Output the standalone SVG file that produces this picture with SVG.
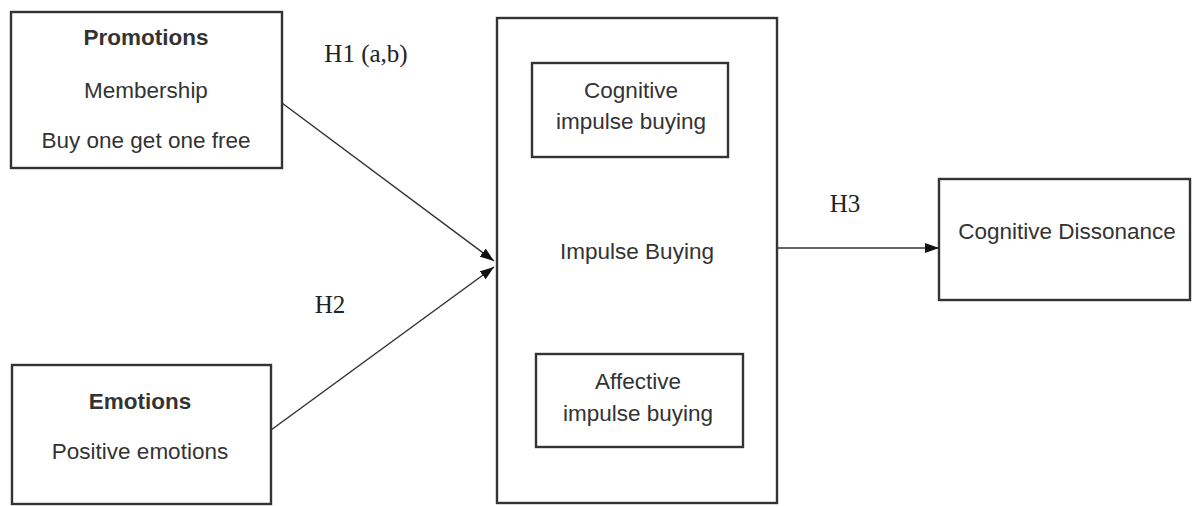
<svg xmlns="http://www.w3.org/2000/svg" width="1195" height="506" viewBox="0 0 1195 506">
<style>
.box{fill:#fff;stroke:#333;stroke-width:2.4}
.t{font-family:"Liberation Sans",Arial,sans-serif;font-size:22.5px;fill:#333;text-anchor:middle}
.b{font-weight:bold}
.h{font-family:"Liberation Serif","Times New Roman",serif;font-size:25px;fill:#222;text-anchor:middle}
.c{stroke:#333;stroke-width:1.5;fill:none}
</style>
<defs>
<marker id="ah" viewBox="0 0 14 10" refX="14" refY="5" markerWidth="14" markerHeight="10" markerUnits="userSpaceOnUse" orient="auto">
<path d="M0,0 L14,5 L0,10 z" fill="#111"/>
</marker>
</defs>
<rect width="1195" height="506" fill="#fff"/>
<g id="promotions">
<rect class="box" x="11" y="12" width="271" height="156"/>
<text class="t b" x="146" y="45">Promotions</text>
<text class="t" x="146" y="98">Membership</text>
<text class="t" x="146" y="148">Buy one get one free</text>
</g>
<g id="emotions">
<rect class="box" x="12" y="365" width="259" height="139"/>
<text class="t b" x="140" y="409">Emotions</text>
<text class="t" x="140" y="459">Positive emotions</text>
</g>
<g id="impulse">
<rect class="box" x="497" y="18" width="280" height="485"/>
<text class="t" x="637" y="259">Impulse Buying</text>
</g>
<g id="cognitive">
<rect class="box" x="532" y="63" width="196" height="94"/>
<text class="t" x="631" y="98">Cognitive</text>
<text class="t" x="631" y="129">impulse buying</text>
</g>
<g id="affective">
<rect class="box" x="536" y="354" width="207" height="93"/>
<text class="t" x="638" y="389">Affective</text>
<text class="t" x="638" y="421">impulse buying</text>
</g>
<g id="dissonance">
<rect class="box" x="939" y="179" width="251" height="121"/>
<text class="t" x="1067" y="239">Cognitive Dissonance</text>
</g>
<g id="connectors">
<line class="c" x1="282" y1="103" x2="494" y2="261" marker-end="url(#ah)"/>
<line class="c" x1="271" y1="430" x2="494" y2="267" marker-end="url(#ah)"/>
<line class="c" x1="777" y1="248" x2="939" y2="248" marker-end="url(#ah)"/>
<text class="h" x="366" y="62">H1 (a,b)</text>
<text class="h" x="330" y="313">H2</text>
<text class="h" x="845" y="212">H3</text>
</g>
</svg>
